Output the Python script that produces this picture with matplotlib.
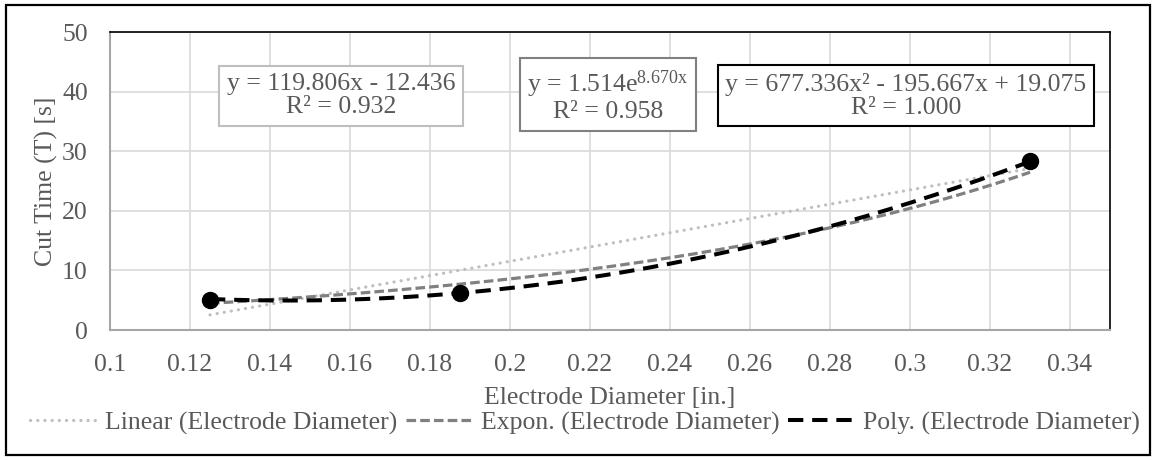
import numpy as np
import matplotlib
matplotlib.use("Agg")
import matplotlib.pyplot as plt
from matplotlib.patches import Rectangle

# measured points
diameter = [0.125, 0.1875, 0.33]
cut_time = [5.0, 6.2, 28.4]

# trendline coefficients as shown on the chart
lin_coef = [119.806, -12.436]
exp_coef = [1.514, 8.670]
poly_coef = [677.336, -195.667, 19.075]

lin_label = "y = 119.806x - 12.436\nR² = 0.932"
exp_label = "y = 1.514e$^{\\mathregular{8.670x}}$\nR² = 0.958"
poly_label = "y = 677.336x² - 195.667x + 19.075\nR² = 1.000"

x_ticks = [0.1, 0.12, 0.14, 0.16, 0.18, 0.2, 0.22, 0.24, 0.26, 0.28, 0.3, 0.32, 0.34]
y_ticks = [0, 10, 20, 30, 40, 50]

plt.rcParams['font.family'] = ['Liberation Serif', 'DejaVu Serif']
plt.rcParams['mathtext.fontset'] = 'custom'
plt.rcParams['mathtext.rm'] = 'Liberation Serif'
plt.rcParams['mathtext.it'] = 'Liberation Serif'

txt = '#595959'
fs = 18.5

fig = plt.figure(figsize=(11.55, 4.61), dpi=100)
ax = fig.add_axes([110 / 1155, 1 - 330 / 461, 1000 / 1155, 298 / 461])

# outer chart border
fig.patches.append(Rectangle((6 / 1155, 1 - 455 / 461), 1144 / 1155, 450 / 461,
                             transform=fig.transFigure, fill=False,
                             edgecolor='black', linewidth=1.6))

xs = np.linspace(min(diameter), max(diameter), 300)
ax.plot(xs, np.polyval(lin_coef, xs), color='#BFBFBF', linewidth=2.3,
        linestyle=(0, (0.05, 2.2)), dash_capstyle='round',
        label='Linear (Electrode Diameter)')
ax.plot(xs, exp_coef[0] * np.exp(exp_coef[1] * xs), color='#808080', linewidth=2.3,
        linestyle=(0, (3.0, 1.3)), label='Expon. (Electrode Diameter)')
ax.plot(xs, np.polyval(poly_coef, xs), color='black', linewidth=2.9,
        linestyle=(0, (3.8, 2.2)), label='Poly. (Electrode Diameter)')
ax.plot(diameter, cut_time, 'o', color='black', markersize=11.5, zorder=5)

ax.set_xlim(0.1, 0.35)
ax.set_ylim(0, 50)
ax.set_xticks(x_ticks)
ax.set_xticklabels([f'{t:g}' for t in x_ticks])
ax.set_yticks(y_ticks)
ax.tick_params(length=0, labelsize=fs, colors=txt)
ax.tick_params(axis='x', pad=17)
ax.tick_params(axis='y', pad=16)
ax.grid(True, color='#D9D9D9', linewidth=1.2)
ax.set_axisbelow(True)
for s in ['top', 'right']:
    ax.spines[s].set_color('black')
    ax.spines[s].set_linewidth(1.2)
for s in ['left', 'bottom']:
    ax.spines[s].set_color('#A6A6A6')
    ax.spines[s].set_linewidth(1.5)

ax.set_xlabel('Electrode Diameter [in.]', fontsize=fs, color=txt, labelpad=8)
ax.set_ylabel('Cut Time (T) [s]', fontsize=fs, color=txt, labelpad=3)

# trendline equation boxes
boxes = [(lin_label, 0.1578, '#BFBFBF'), (exp_label, 0.2245, '#808080'), (poly_label, 0.299, 'black')]
for label, xc, ec in boxes:
    ax.text(xc, 39.3, label, ha='center', va='center', fontsize=fs, color=txt,
            multialignment='center', linespacing=1.05,
            bbox=dict(boxstyle='square,pad=0.3', facecolor='white', edgecolor=ec, linewidth=1.5))

fig.legend(loc='center', bbox_to_anchor=(585 / 1155, 1 - 423 / 461), ncol=3, frameon=False,
           fontsize=fs, labelcolor=txt, handlelength=2.6, handletextpad=0.3,
           columnspacing=0.35, borderaxespad=0)

fig.savefig('out.png', dpi=100)
